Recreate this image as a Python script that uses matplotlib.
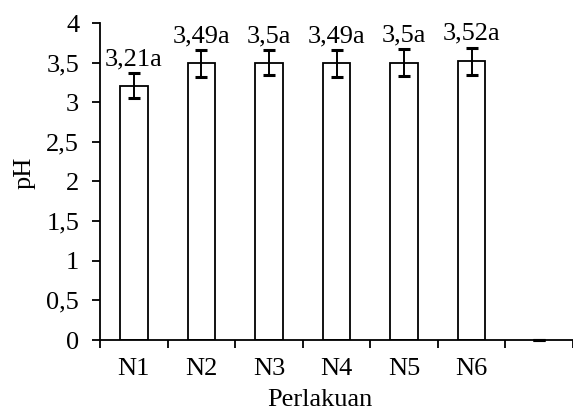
import numpy as np
import matplotlib.pyplot as plt

plt.rcParams['font.family'] = ['Liberation Serif', 'DejaVu Serif']

# data
perlakuan = ["N1", "N2", "N3", "N4", "N5", "N6", ""]
ph = np.array([3.21, 3.49, 3.50, 3.49, 3.50, 3.52, 0.0])
sd = np.array([0.16, 0.17, 0.16, 0.17, 0.17, 0.17, 0.0])
notasi = ["3,21a", "3,49a", "3,5a", "3,49a", "3,5a", "3,52a", ""]

fs = 19

fig = plt.figure(figsize=(5.73, 4.15), dpi=100)
ax = fig.add_axes([100/573, 75/415, 1 - 100/573, (340 - 23)/415])

x = np.arange(len(perlakuan))
ada = ph > 0  # laatste kolom leeg: alleen de cap is zichtbaar
ax.bar(x[ada], ph[ada], width=0.41, color="white", edgecolor="black", linewidth=1.3, zorder=2)
ax.errorbar(x, ph, yerr=sd, fmt="none", ecolor="black", elinewidth=1.4,
            capsize=4.3, capthick=2.2, zorder=3, clip_on=False)

for i in range(len(perlakuan)):
    if notasi[i]:
        ax.annotate(notasi[i], (x[i], ph[i] + sd[i]), xytext=(0, 2),
                    textcoords="offset points", ha="center", va="bottom", fontsize=fs)

ax.set_xlim(-0.5, -0.5 + 473/69)
ax.set_ylim(0, 4)
ax.set_yticks(np.arange(0, 4.01, 0.5))
ax.set_yticklabels(["0", "0,5", "1", "1,5", "2", "2,5", "3", "3,5", "4"], fontsize=fs)
ax.set_xticks(x)
ax.set_xticklabels(perlakuan, fontsize=fs)
ax.set_xticks(np.arange(-0.5, 6.6, 1), minor=True)
ax.tick_params(axis="x", which="major", length=0, pad=13)
ax.tick_params(axis="x", which="minor", length=6, width=1.3, direction="out")
ax.tick_params(axis="y", length=6, width=1.3, direction="out", pad=9)

ax.spines["top"].set_visible(False)
ax.spines["right"].set_visible(False)
ax.spines["left"].set_linewidth(1.3)
ax.spines["bottom"].set_linewidth(1.3)

ax.set_xlabel("Perlakuan", fontsize=fs)
ax.xaxis.set_label_coords((320 - 100) / 473, -(389 - 340) / 317)
ax.xaxis.label.set_va("top")
ax.set_ylabel("pH", fontsize=fs)
ax.yaxis.set_label_coords(-(100 - 25) / 473, (340 - 173) / 317)
ax.yaxis.label.set_va("center")

fig.savefig("out.png", dpi=100)
